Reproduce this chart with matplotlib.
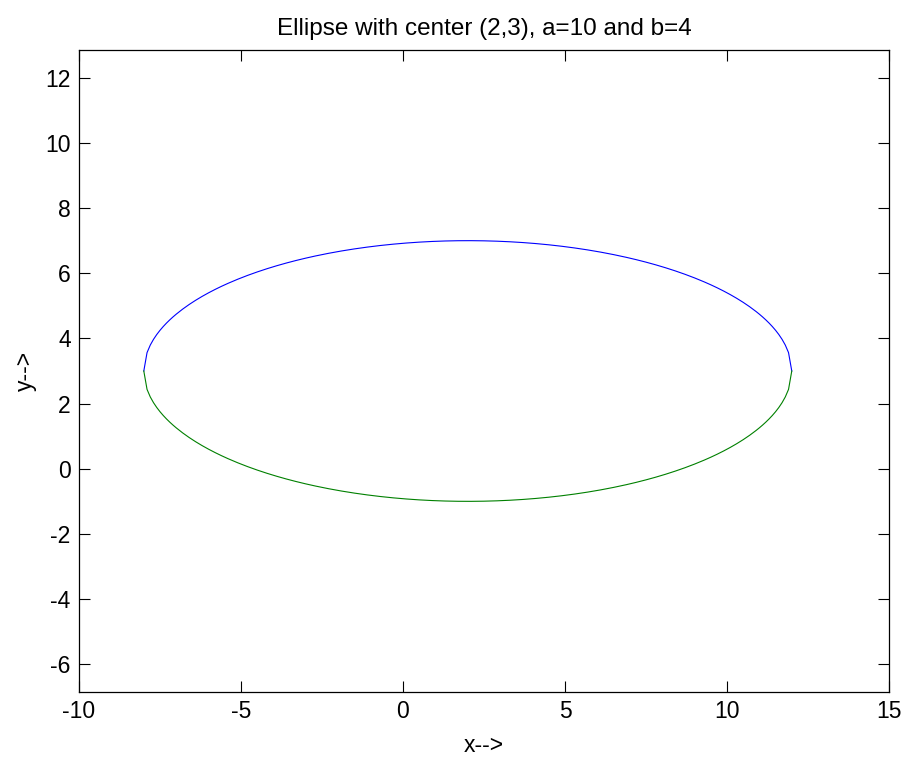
import numpy as np
import matplotlib
matplotlib.use('Agg')
import matplotlib.pyplot as plt

plt.rcParams['font.family'] = ['Liberation Sans', 'DejaVu Sans']
plt.rcParams['axes.unicode_minus'] = False

# ellipse parameters
h, k = 2, 3
a, b = 10, 4

x = np.arange(h - a, h + a + 0.001, 0.1)
r = np.sqrt(np.clip(1 - ((x - h) / a) ** 2, 0, None))
y_top = k + b * r
y_bot = k - b * r

fig = plt.figure(figsize=(9.06, 7.57), dpi=100)
ax = fig.add_axes([0.0872, 0.0859, 0.894, 0.848])

ax.plot(x, y_top, color=(0, 0, 1), lw=0.8)
ax.plot(x, y_bot, color=(0, 0.5, 0), lw=0.8)

ax.set_xlim(-10, 15)
ax.set_ylim(-6.85, 12.85)
ax.set_xticks(np.arange(-10, 16, 5))
ax.set_yticks(np.arange(-6, 13, 2))

ax.tick_params(direction='in', top=True, right=True, length=8, width=0.8,
               labelsize=16.5, pad=6)
for s in ax.spines.values():
    s.set_linewidth(0.9)

ax.set_title('Ellipse with center (2,3), a=10 and b=4', fontsize=17.5, pad=11)
ax.set_xlabel('x-->', fontsize=16.5, labelpad=8)
ax.set_ylabel('y-->', fontsize=16.5, labelpad=6)

plt.savefig('out.png', dpi=100)
